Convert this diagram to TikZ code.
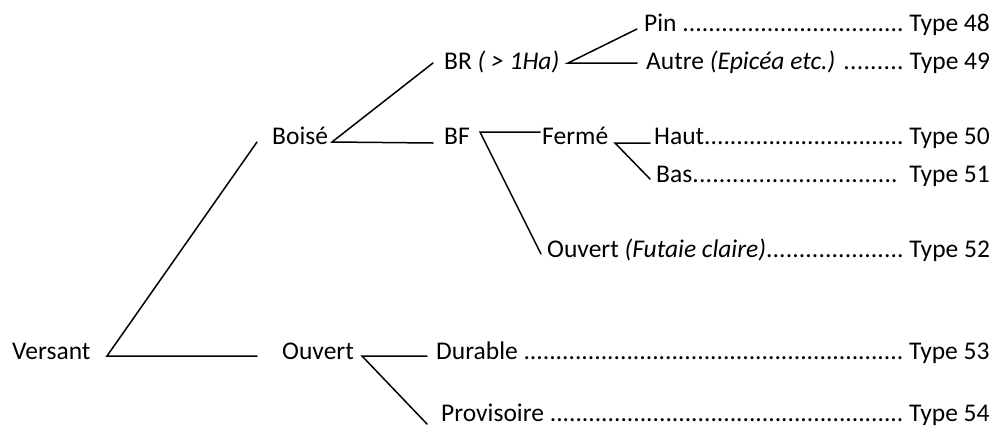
\documentclass[tikz,border=0pt]{standalone}
\usepackage{fontspec}
\setmainfont{Carlito}
\newcommand\dotlead{\xleaders\hbox{.}\hfill}
\newcommand\leafrow[2]{\hbox to #1{#2}}
\begin{document}
\begin{tikzpicture}[x=1pt,y=-1pt,
  lbl/.style={anchor=base west,inner sep=0pt,font=\fontsize{25.5}{30}\selectfont},
  conn/.style={line width=1.5pt,line cap=round}]
\useasboundingbox (0,0) rectangle (998,426);
% labels
\node[lbl] (versant) at (12,359) {Versant};
\node[lbl] (boise) at (272,144) {Boisé};
\node[lbl] (br) at (444,69) {BR \textit{( > 1Ha)}};
\node[lbl] (bf) at (444,144) {BF};
\node[lbl] (ferme) at (542,144) {Fermé};
\node[lbl] (ouvertA) at (282,359) {Ouvert};
\node[lbl] (pin) at (644,31) {\leafrow{346pt}{Pin \dotlead\ Type 48}};
\node[lbl] (autre) at (646,69) {\leafrow{344pt}{Autre \textit{(Epicéa etc.)} \dotlead\ Type 49}};
\node[lbl] (haut) at (654,144) {\leafrow{336pt}{Haut\dotlead\ Type 50}};
\node[lbl] (bas) at (656,182) {\leafrow{334pt}{Bas\dotlead\ \ Type 51}};
\node[lbl] (ouvertB) at (547,257) {\leafrow{443pt}{Ouvert \textit{(Futaie claire)}\dotlead\ Type 52}};
\node[lbl] (durable) at (436,359) {\leafrow{554pt}{Durable \dotlead\ Type 53}};
\node[lbl] (provis) at (441,421) {\leafrow{549pt}{Provisoire \dotlead\ Type 54}};
% connector end points
\coordinate (vR) at (107,356);
\coordinate (vUp) at (257,142);
\coordinate (vH) at (257,356);
\coordinate (bR) at (332,142);
\coordinate (bUp) at (433,63);
\coordinate (bH) at (433,143);
\coordinate (brR) at (568,63);
\coordinate (brUp) at (637,29);
\coordinate (brH) at (637,63);
\coordinate (bfR) at (480,132);
\coordinate (bfH) at (540,132);
\coordinate (bfDn) at (541,254);
\coordinate (fR) at (615,143);
\coordinate (fH) at (650,143);
\coordinate (fDn) at (650,179);
\coordinate (oR) at (362,356);
\coordinate (oH) at (427,356);
\coordinate (oDn) at (427,424);
% connectors
\draw[conn] (vUp) -- (vR) -- (vH);
\draw[conn] (bUp) -- (bR) -- (bH);
\draw[conn] (brUp) -- (brR) -- (brH);
\draw[conn] (bfH) -- (bfR) -- (bfDn);
\draw[conn] (fH) -- (fR) -- (fDn);
\draw[conn] (oH) -- (oR) -- (oDn);
\end{tikzpicture}
\end{document}
